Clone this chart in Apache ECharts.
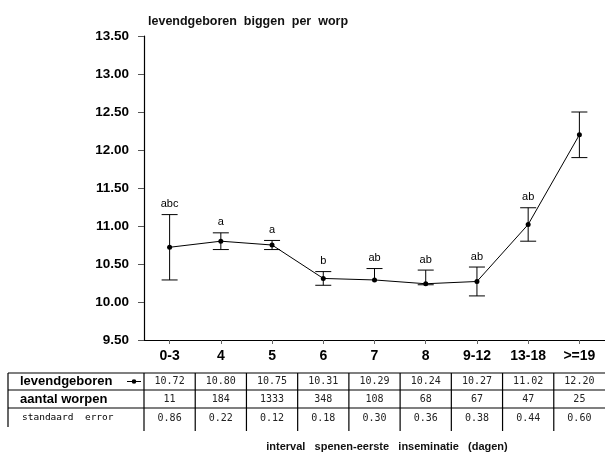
<!DOCTYPE html>
<html>
<head>
<meta charset="utf-8">
<script src="https://cdn.jsdelivr.net/npm/echarts@6/dist/echarts.min.js"></script>
<style>
  html, body { margin: 0; padding: 0; background: #fff; }
  #chart { width: 605px; height: 458px; }
</style>
</head>
<body>
<div id="chart"></div>
<script>
// Weaning-to-first-insemination interval classes (days)
const categories = ['0-3', '4', '5', '6', '7', '8', '9-12', '13-18', '>=19'];
// Live-born piglets per litter (mean)
const levendgeboren = [10.72, 10.80, 10.75, 10.31, 10.29, 10.24, 10.27, 11.02, 12.20];
// Number of litters per class
const aantalWorpen = [11, 184, 1333, 348, 108, 68, 67, 47, 25];
// Standard error per class
const standaardError = [0.86, 0.22, 0.12, 0.18, 0.30, 0.36, 0.38, 0.44, 0.60];
// Significance letters shown above the error bars
const letters = ['abc', 'a', 'a', 'b', 'ab', 'ab', 'ab', 'ab', ''];
// How the lower half of each error bar is drawn: full whisker, none, or only a cap at the mean
const lowerBar = ['full', 'full', 'full', 'full', 'none', 'cap', 'full', 'full', 'full'];
// Value axis range
const yMin = 9.5, yMax = 13.5, yStep = 0.5;

const fmt2 = v => v.toFixed(2);
const SANS = '"Liberation Sans", Arial, sans-serif';
const MONO = '"DejaVu Sans Mono", monospace';

// Table layout (pixels)
const TABLE_LINES = [373, 390, 408];
const TABLE_ROWS = [381.5, 399, 418];
const TABLE_BOTTOM = 431;

const chart = echarts.init(document.getElementById('chart'), null, { renderer: 'canvas' });

const errorData = categories.map((c, i) => [i, levendgeboren[i], standaardError[i]]);
const tableData = categories.map((c, i) => [i, levendgeboren[i], aantalWorpen[i], standaardError[i]]);

chart.setOption({
  animation: false,
  backgroundColor: '#fff',
  title: [
    {
      text: 'levendgeboren  biggen  per  worp',
      left: 143, top: 10,
      textStyle: { fontFamily: SANS, fontSize: 12.5, fontWeight: 'bold', color: '#111' }
    }
  ],
  grid: { left: 144, top: 36, height: 304, right: -5 },
  xAxis: {
    type: 'category',
    data: categories,
    boundaryGap: true,
    axisLine: { lineStyle: { color: '#000', width: 1.2 } },
    axisTick: { show: true, alignWithLabel: true, length: 4, lineStyle: { color: '#666' } },
    axisLabel: {
      margin: 9, color: '#000', fontFamily: SANS, fontSize: 14, fontWeight: 'bold'
    },
    splitLine: { show: false }
  },
  yAxis: {
    type: 'value',
    min: yMin, max: yMax, interval: yStep,
    axisLine: { show: true, lineStyle: { color: '#000', width: 1.2 } },
    axisTick: { show: true, length: 6, lineStyle: { color: '#555' } },
    axisLabel: {
      margin: 15, color: '#000', fontFamily: SANS, fontSize: 13.5, fontWeight: 'bold',
      formatter: v => fmt2(v)
    },
    splitLine: { show: false }
  },
  graphic: [
    // table rules
    ...TABLE_LINES.map(y => ({
      type: 'line', shape: { x1: 8, y1: y, x2: 605, y2: y },
      style: { stroke: '#000', lineWidth: 1.2 }, silent: true
    })),
    { type: 'line', shape: { x1: 8, y1: TABLE_LINES[0], x2: 8, y2: 427 },
      style: { stroke: '#000', lineWidth: 1.2 }, silent: true },
    // row headers
    { type: 'text', x: 20, y: TABLE_ROWS[0],
      style: { text: 'levendgeboren', font: 'bold 13px ' + SANS, fill: '#000', verticalAlign: 'middle' } },
    { type: 'text', x: 20, y: TABLE_ROWS[1],
      style: { text: 'aantal worpen', font: 'bold 13px ' + SANS, fill: '#000', verticalAlign: 'middle' } },
    { type: 'text', x: 22, y: TABLE_ROWS[2],
      style: { text: 'standaard  error', font: '9.5px ' + MONO, fill: '#000', verticalAlign: 'middle' } },
    // legend key for the line series
    { type: 'line', shape: { x1: 127, y1: TABLE_ROWS[0], x2: 141, y2: TABLE_ROWS[0] },
      style: { stroke: '#000', lineWidth: 1 }, silent: true },
    { type: 'circle', shape: { cx: 134, cy: TABLE_ROWS[0], r: 2.3 },
      style: { fill: '#000' }, silent: true },
    // horizontal axis title
    { type: 'text', x: 387, y: 447,
      style: {
        text: 'interval   spenen-eerste   inseminatie   (dagen)',
        font: 'bold 11px ' + SANS, fill: '#111', align: 'center', verticalAlign: 'middle'
      } }
  ],
  series: [
    {
      name: 'levendgeboren',
      type: 'line',
      data: levendgeboren,
      symbol: 'circle',
      symbolSize: 5,
      itemStyle: { color: '#000' },
      lineStyle: { color: '#000', width: 1 },
      z: 3
    },
    {
      // error bars (mean ± half standard error) with significance letters
      type: 'custom',
      data: errorData,
      z: 2,
      renderItem: (params, api) => {
        const i = api.value(0), m = api.value(1), se = api.value(2);
        const top = api.coord([i, m + se / 2]);
        const mid = api.coord([i, m]);
        const bot = api.coord([i, m - se / 2]);
        const cap = 8;
        const stroke = { stroke: '#000', lineWidth: 1 };
        const children = [
          { type: 'line', shape: { x1: top[0], y1: top[1], x2: mid[0], y2: mid[1] }, style: stroke },
          { type: 'line', shape: { x1: top[0] - cap, y1: top[1], x2: top[0] + cap, y2: top[1] }, style: stroke }
        ];
        if (lowerBar[i] === 'full') {
          children.push(
            { type: 'line', shape: { x1: mid[0], y1: mid[1], x2: bot[0], y2: bot[1] }, style: stroke },
            { type: 'line', shape: { x1: bot[0] - cap, y1: bot[1], x2: bot[0] + cap, y2: bot[1] }, style: stroke }
          );
        } else if (lowerBar[i] === 'cap') {
          children.push(
            { type: 'line', shape: { x1: mid[0] - cap, y1: mid[1] + 1, x2: mid[0] + cap, y2: mid[1] + 1 }, style: stroke }
          );
        }
        if (letters[i]) {
          children.push({
            type: 'text',
            style: {
              text: letters[i], x: top[0], y: top[1] - 5,
              align: 'center', verticalAlign: 'bottom',
              font: '11px ' + SANS, fill: '#000'
            }
          });
        }
        return { type: 'group', children };
      }
    },
    {
      // data table under the chart, one column per interval class
      type: 'custom',
      data: tableData,
      clip: false,
      silent: true,
      renderItem: (params, api) => {
        const i = api.value(0);
        const x = api.coord([i, yMin])[0];
        const bw = api.size([1, 0])[0];
        const vals = [fmt2(api.value(1)), String(api.value(2)), fmt2(api.value(3))];
        const children = [
          { type: 'line',
            shape: { x1: x - bw / 2, y1: TABLE_LINES[0], x2: x - bw / 2, y2: TABLE_BOTTOM },
            style: { stroke: '#000', lineWidth: 1.2 } }
        ];
        vals.forEach((t, r) => {
          children.push({
            type: 'text',
            style: {
              text: t, x: x, y: TABLE_ROWS[r],
              align: 'center', verticalAlign: 'middle',
              font: '10px ' + MONO, fill: '#222'
            }
          });
        });
        return { type: 'group', children };
      }
    }
  ]
});
</script>
</body>
</html>
